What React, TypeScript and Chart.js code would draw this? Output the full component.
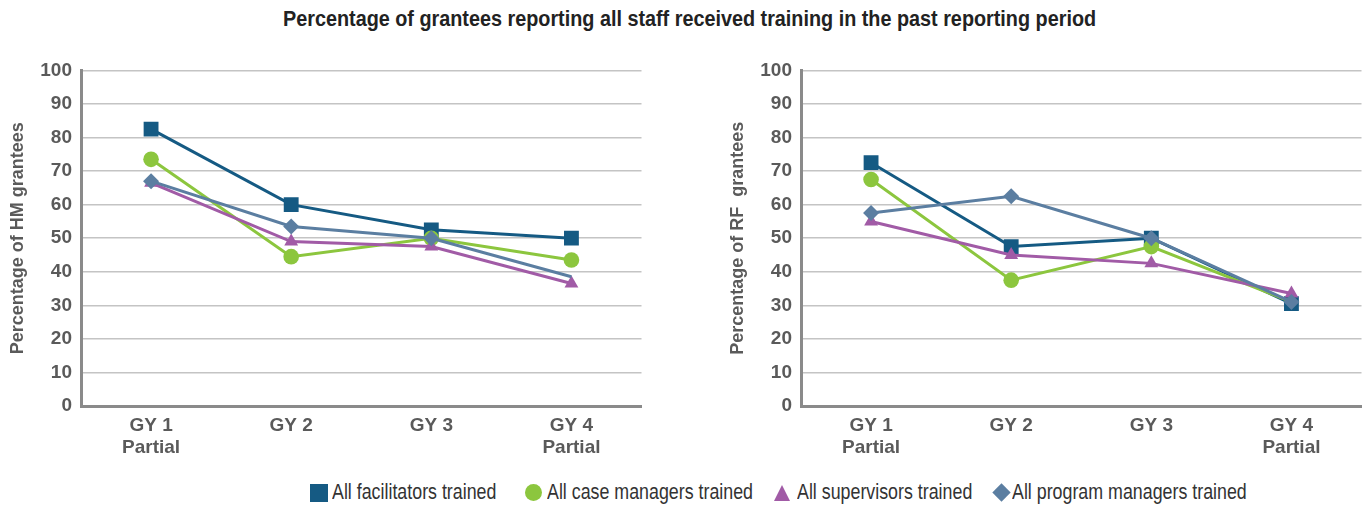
import React, { useEffect, useRef } from "react";
import { Chart, registerables } from "chart.js";

Chart.register(...registerables);

const categories: string[][] = [["GY 1", "Partial"], ["GY 2"], ["GY 3"], ["GY 4", "Partial"]];
const seriesNames = [
  "All facilitators trained",
  "All case managers trained",
  "All supervisors trained",
  "All program managers trained",
];
const seriesColors = ["#155a83", "#8cc63e", "#a15ba6", "#5b7ea1"];
const seriesShapes = ["rect", "circle", "triangle", "rectRot"];
const seriesRadius = [10.5, 7.8, 8, 8];

const hmFacilitators = [82.5, 60, 52.5, 50];
const hmCaseManagers = [73.5, 44.5, 50, 43.5];
const hmSupervisors = [66.5, 49, 47.5, 36.5];
const hmProgramManagers = [67, 53.5, 50, 38.5];

const rfFacilitators = [72.5, 47.5, 50, 30.5];
const rfCaseManagers = [67.5, 37.5, 47.5, 31];
const rfSupervisors = [55, 45, 42.5, 33.5];
const rfProgramManagers = [57.5, 62.5, 50, 31];

const yTicks = [0, 10, 20, 30, 40, 50, 60, 70, 80, 90, 100];

const FONT = "'Liberation Sans', Arial, sans-serif";
const GRAY = "#5a5a5a";

function makeConfig(values: number[][], yTitle: string, hidden: number[][]): any {
  const order = [3, 2, 1, 0];
  return {
    type: "line",
    data: {
      labels: categories,
      datasets: order.map((i) => ({
        label: seriesNames[i],
        data: values[i],
        borderColor: seriesColors[i],
        backgroundColor: seriesColors[i],
        borderWidth: 3,
        pointStyle: seriesShapes[i],
        pointRadius: values[i].map((_, k) => (hidden[i].includes(k) ? 0 : seriesRadius[i])),
        pointHoverRadius: seriesRadius[i],
        pointBorderWidth: 0,
        tension: 0,
      })),
    },
    options: {
      animation: false,
      responsive: false,
      maintainAspectRatio: false,
      layout: { padding: { top: 16, right: 0, bottom: 0, left: 0 } },
      plugins: { legend: { display: false }, tooltip: { enabled: false }, title: { display: false } },
      scales: {
        x: {
          offset: true,
          grid: { display: false, drawTicks: false },
          border: { display: true, color: "#8a8a8a", width: 3 },
          ticks: { color: GRAY, font: { family: FONT, size: 19, weight: "bold" }, padding: 8, maxRotation: 0 },
          afterFit: (s: any) => { s.height = 59; },
        },
        y: {
          min: 0,
          max: 100,
          afterBuildTicks: (s: any) => { s.ticks = yTicks.map((v) => ({ value: v })); },
          grid: { color: "#c4c4c4", lineWidth: 1.5, drawTicks: false },
          border: { display: true, color: "#8a8a8a", width: 3 },
          ticks: { color: GRAY, font: { family: FONT, size: 19, weight: "bold" }, padding: 9 },
          title: { display: true, text: yTitle, color: GRAY, font: { family: FONT, size: 18, weight: "bold" }, padding: { top: 7, bottom: 0 } },
          afterFit: (s: any) => { s.width = 81; },
        },
      },
    },
  };
}

function LineChart({ values, yTitle, hidden, style }: any) {
  const ref = useRef<HTMLCanvasElement>(null);
  useEffect(() => {
    const chart = new Chart(ref.current!, makeConfig(values, yTitle, hidden));
    return () => chart.destroy();
  }, []);
  return <canvas ref={ref} width={style.width} height={style.height} style={{ position: "absolute", ...style }} />;
}

const legendMarkerX = [310, 525, 774, 992];
const legendTextX = [332, 547, 797, 1012];

function Marker({ i }: { i: number }) {
  const c = seriesColors[i];
  const base: any = { position: "absolute", left: legendMarkerX[i] };
  if (i === 0) return <span style={{ ...base, top: 484, width: 18, height: 18, background: c }} />;
  if (i === 1) return <span style={{ ...base, top: 484, width: 17, height: 17, borderRadius: 9, background: c }} />;
  if (i === 2)
    return <span style={{ ...base, top: 485, width: 0, height: 0, borderLeft: "8.5px solid transparent", borderRight: "8.5px solid transparent", borderBottom: "16px solid " + c }} />;
  return <span style={{ ...base, left: legendMarkerX[i] + 3, top: 486, width: 13, height: 13, background: c, transform: "rotate(45deg)" }} />;
}

export default function App() {
  useEffect(() => {
    document.body.style.margin = "0";
  }, []);
  return (
    <div style={{ position: "relative", width: 1364, height: 506, background: "#fff", overflow: "hidden" }}>
      <div style={{ position: "absolute", left: 283, top: 6, whiteSpace: "nowrap", transform: "scaleX(0.9)", transformOrigin: "left center", fontFamily: FONT, fontWeight: "bold", fontSize: 22, color: "#222" }}>
        Percentage of grantees reporting all staff received training in the past reporting period
      </div>
      <LineChart values={[hmFacilitators, hmCaseManagers, hmSupervisors, hmProgramManagers]} yTitle="Percentage of HM grantees" hidden={[[], [], [], [3]]} style={{ left: 0, top: 50, width: 652, height: 415 }} />
      <LineChart values={[rfFacilitators, rfCaseManagers, rfSupervisors, rfProgramManagers]} yTitle="Percentage of RF  grantees" hidden={[[], [3], [], []]} style={{ left: 720, top: 50, width: 652, height: 415 }} />
      {seriesNames.map((n, i) => (
        <React.Fragment key={n}>
          <Marker i={i} />
          <span style={{ position: "absolute", left: legendTextX[i], top: 479, whiteSpace: "nowrap", transform: "scaleX(0.81)", transformOrigin: "left center", fontFamily: FONT, fontSize: 22, color: "#333" }}>
            {n}
          </span>
        </React.Fragment>
      ))}
    </div>
  );
}
